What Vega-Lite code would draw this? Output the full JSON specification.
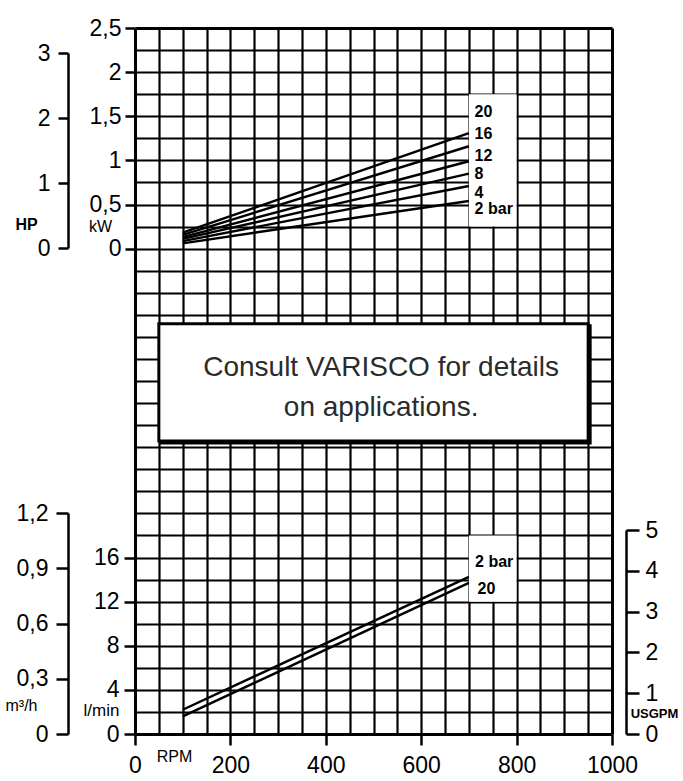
{
  "$schema": "https://vega.github.io/schema/vega-lite/v6.json",
  "width": 477,
  "height": 706,
  "autosize": {"type": "none"},
  "padding": {"left": 135, "top": 28, "right": 71, "bottom": 47},
  "background": "white",
  "config": {
    "view": {"stroke": null},
    "axis": {
      "labelFont": "Liberation Sans",
      "titleFont": "Liberation Sans",
      "labelColor": "#000",
      "titleColor": "#000",
      "tickColor": "#000",
      "domainColor": "#000",
      "labelOverlap": false,
      "labelBound": false,
      "labelFlush": false
    }
  },
  "datasets": {
    "power": [
      {"bar": 20, "rpm": 100, "kw": 0.18}, {"bar": 20, "rpm": 700, "kw": 1.31},
      {"bar": 16, "rpm": 100, "kw": 0.155}, {"bar": 16, "rpm": 700, "kw": 1.16},
      {"bar": 12, "rpm": 100, "kw": 0.13}, {"bar": 12, "rpm": 700, "kw": 0.99},
      {"bar": 8, "rpm": 100, "kw": 0.11}, {"bar": 8, "rpm": 700, "kw": 0.85},
      {"bar": 4, "rpm": 100, "kw": 0.085}, {"bar": 4, "rpm": 700, "kw": 0.71},
      {"bar": 2, "rpm": 100, "kw": 0.06}, {"bar": 2, "rpm": 700, "kw": 0.54}
    ],
    "powerLabels": [
      {"rpm": 712, "kw": 1.548, "label": "20"},
      {"rpm": 712, "kw": 1.30, "label": "16"},
      {"rpm": 712, "kw": 1.05, "label": "12"},
      {"rpm": 712, "kw": 0.85, "label": "8"},
      {"rpm": 712, "kw": 0.63, "label": "4"},
      {"rpm": 712, "kw": 0.45, "label": "2  bar"}
    ],
    "flow": [
      {"bar": 2, "rpm": 100, "lpm": 2.2}, {"bar": 2, "rpm": 700, "lpm": 14.25},
      {"bar": 20, "rpm": 100, "lpm": 1.6}, {"bar": 20, "rpm": 700, "lpm": 13.7}
    ],
    "flowLabels": [
      {"rpm": 713, "lpm": 15.55, "label": "2  bar"},
      {"rpm": 718, "lpm": 13.15, "label": "20"}
    ]
  },
  "encoding": {
    "x": {
      "field": "rpm",
      "type": "quantitative",
      "scale": {"domain": [0, 1000], "nice": false},
      "axis": {
        "orient": "bottom",
        "values": [0, 50, 100, 150, 200, 250, 300, 350, 400, 450, 500, 550, 600, 650, 700, 750, 800, 850, 900, 950, 1000],
        "grid": true,
        "gridColor": "#000",
        "gridOpacity": 1,
        "gridWidth": {"condition": {"test": "datum.value === 0 || datum.value === 1000", "value": 3}, "value": 2.2},
        "domain": false,
        "tickSize": 11,
        "tickWidth": 2.5,
        "tickOpacity": {"condition": {"test": "datum.value % 200 === 0", "value": 1}, "value": 0},
        "labelExpr": "datum.value % 200 === 0 ? format(datum.value, 'd') : ''",
        "labelFontSize": 23,
        "labelPadding": 9,
        "title": "RPM",
        "titleX": 39,
        "titleY": 22,
        "titleAlign": "center",
        "titleBaseline": "middle",
        "titleFontSize": 16,
        "titleFontWeight": "normal"
      }
    }
  },
  "layer": [
    {
      "encoding": {
        "y": {
          "field": "kw",
          "type": "quantitative",
          "scale": {"domain": [-5.5, 2.5], "nice": false, "zero": false},
          "axis": {
            "orient": "left",
            "offset": 0,
            "values": [-5.5, -5.25, -5, -4.75, -4.5, -4.25, -4, -3.75, -3.5, -3.25, -3, -2.75, -2.5, -2.25, -2, -1.75, -1.5, -1.25, -1, -0.75, -0.5, -0.25, 0, 0.25, 0.5, 0.75, 1, 1.25, 1.5, 1.75, 2, 2.25, 2.5],
            "grid": true,
            "gridColor": "#000",
            "gridOpacity": 1,
            "gridWidth": {"condition": {"test": "datum.value === -5.5 || datum.value === 2.5", "value": 3}, "value": 2.2},
            "domain": false,
            "tickSize": 10,
            "tickWidth": 2.5,
            "tickOpacity": {"condition": {"test": "datum.value >= 0 && datum.value % 0.5 === 0", "value": 1}, "value": 0},
            "labelExpr": "datum.value >= 0 && datum.value % 0.5 === 0 ? replace(format(datum.value, '~g'), '.', ',') : ''",
            "labelFontSize": 23,
            "labelPadding": 4,
            "title": "kW",
            "titleAngle": 0,
            "titleX": -35,
            "titleY": 198,
            "titleAlign": "center",
            "titleBaseline": "middle",
            "titleFontSize": 16,
            "titleFontWeight": "normal"
          }
        }
      },
      "layer": [
        {
          "data": {"values": [{"rpm": 700, "rpm2": 800, "kw": 0.25, "kw2": 1.75}]},
          "mark": {"type": "rect", "fill": "white"},
          "encoding": {"x2": {"field": "rpm2"}, "y2": {"field": "kw2"}}
        },
        {
          "data": {"name": "power"},
          "mark": {"type": "line", "color": "#000", "strokeWidth": 2.4},
          "encoding": {"detail": {"field": "bar", "type": "nominal"}}
        },
        {
          "data": {"name": "powerLabels"},
          "mark": {"type": "text", "align": "left", "baseline": "middle", "font": "Liberation Sans", "fontSize": 16, "fontWeight": "bold", "color": "#000"},
          "encoding": {"text": {"field": "label"}}
        },
        {
          "data": {"values": [{"rpm": 50, "rpm2": 950, "kw": -0.85, "kw2": -2.18}]},
          "layer": [
            {
              "mark": {"type": "rect", "fill": "#000", "stroke": "#000", "strokeWidth": 3, "xOffset": 2, "x2Offset": 2, "yOffset": 2, "y2Offset": 2},
              "encoding": {"x2": {"field": "rpm2"}, "y2": {"field": "kw2"}}
            },
            {
              "mark": {"type": "rect", "fill": "white", "stroke": "#000", "strokeWidth": 3},
              "encoding": {"x2": {"field": "rpm2"}, "y2": {"field": "kw2"}}
            }
          ]
        },
        {
          "data": {"values": [
            {"rpm": 516, "kw": -1.443, "text": "Consult VARISCO for details"},
            {"rpm": 516, "kw": -1.898, "text": "on applications."}
          ]},
          "mark": {"type": "text", "align": "center", "baseline": "alphabetic", "font": "Liberation Sans", "fontSize": 28, "color": "#2b2b2b"},
          "encoding": {"text": {"field": "text"}}
        }
      ]
    },
    {
      "encoding": {
        "y": {
          "field": "lpm",
          "type": "quantitative",
          "scale": {"domain": [0, 64], "nice": false, "zero": false},
          "axis": {
            "orient": "left",
            "offset": 0,
            "values": [0, 4, 8, 12, 16],
            "grid": false,
            "domain": false,
            "tickSize": 11,
            "tickWidth": 2.5,
            "labelFontSize": 23,
            "labelPadding": 5,
            "title": "l/min",
            "titleAngle": 0,
            "titleX": -34,
            "titleY": 682,
            "titleAlign": "center",
            "titleBaseline": "middle",
            "titleFontSize": 17,
            "titleFontWeight": "normal"
          }
        }
      },
      "layer": [
        {
          "data": {"values": [{"rpm": 700, "rpm2": 800, "lpm": 12, "lpm2": 18}]},
          "mark": {"type": "rect", "fill": "white"},
          "encoding": {"x2": {"field": "rpm2"}, "y2": {"field": "lpm2"}}
        },
        {
          "data": {"name": "flow"},
          "mark": {"type": "line", "color": "#000", "strokeWidth": 2.4},
          "encoding": {"detail": {"field": "bar", "type": "nominal"}}
        },
        {
          "data": {"name": "flowLabels"},
          "mark": {"type": "text", "align": "left", "baseline": "middle", "font": "Liberation Sans", "fontSize": 16, "fontWeight": "bold", "color": "#000"},
          "encoding": {"text": {"field": "label"}}
        }
      ]
    },
    {
      "data": {"values": [{"rpm": 0, "hp": 0}, {"rpm": 0, "hp": 3}]},
      "mark": {"type": "point", "opacity": 0},
      "encoding": {
        "y": {
          "field": "hp",
          "type": "quantitative",
          "scale": {"domain": [0, 3], "range": [220, 25], "nice": false},
          "axis": {
            "orient": "left",
            "offset": 67,
            "values": [0, 1, 2, 3],
            "grid": false,
            "domain": true,
            "domainWidth": 2.5,
            "tickSize": 10,
            "tickWidth": 2.5,
            "labelFontSize": 23,
            "labelPadding": 8,
            "title": "HP",
            "titleAngle": 0,
            "titleX": -42,
            "titleY": 196,
            "titleAlign": "center",
            "titleBaseline": "middle",
            "titleFontSize": 16,
            "titleFontWeight": "bold"
          }
        }
      }
    },
    {
      "data": {"values": [{"rpm": 0, "m3h": 0}, {"rpm": 0, "m3h": 1.2}]},
      "mark": {"type": "point", "opacity": 0},
      "encoding": {
        "y": {
          "field": "m3h",
          "type": "quantitative",
          "scale": {"domain": [0, 1.2], "range": [706, 485], "nice": false},
          "axis": {
            "orient": "left",
            "offset": 67,
            "values": [0, 0.3, 0.6, 0.9, 1.2],
            "grid": false,
            "domain": true,
            "domainWidth": 2.5,
            "tickSize": 12,
            "tickWidth": 2.5,
            "labelExpr": "datum.value === 0 ? '0' : replace(format(datum.value, '.1f'), '.', ',')",
            "labelFontSize": 23,
            "labelPadding": 8,
            "title": "m³/h",
            "titleAngle": 0,
            "titleX": -47,
            "titleY": 677,
            "titleAlign": "center",
            "titleBaseline": "middle",
            "titleFontSize": 16,
            "titleFontWeight": "normal"
          }
        }
      }
    },
    {
      "data": {"values": [{"rpm": 0, "usgpm": 0}, {"rpm": 0, "usgpm": 5}]},
      "mark": {"type": "point", "opacity": 0},
      "encoding": {
        "y": {
          "field": "usgpm",
          "type": "quantitative",
          "scale": {"domain": [0, 5], "range": [706, 502], "nice": false},
          "axis": {
            "orient": "right",
            "offset": 14,
            "values": [0, 1, 2, 3, 4, 5],
            "grid": false,
            "domain": true,
            "domainWidth": 2.5,
            "tickSize": 13,
            "tickWidth": 2.5,
            "labelFontSize": 23,
            "labelPadding": 6,
            "title": "USGPM",
            "titleAngle": 0,
            "titleX": 28,
            "titleY": 685,
            "titleAlign": "center",
            "titleBaseline": "middle",
            "titleFontSize": 13,
            "titleFontWeight": "bold"
          }
        }
      }
    }
  ],
  "resolve": {"scale": {"y": "independent"}}
}
